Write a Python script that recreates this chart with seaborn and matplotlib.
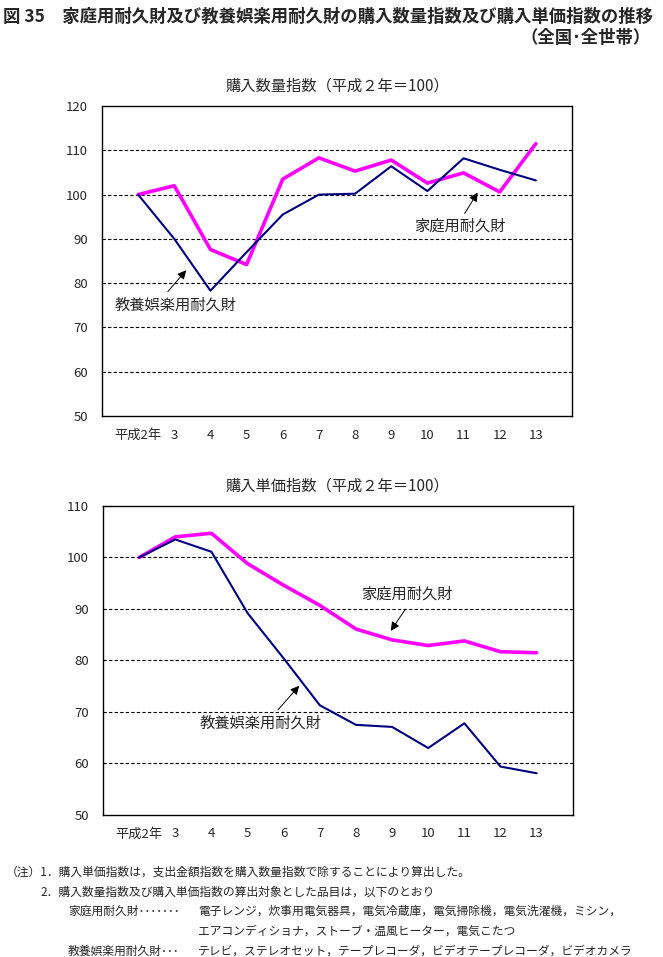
import pandas as pd
import matplotlib
matplotlib.use("Agg")
import matplotlib.pyplot as plt
import seaborn as sns

years = ["平成2年", "3", "4", "5", "6", "7", "8", "9", "10", "11", "12", "13"]

# 購入数量指数
qty_katei = [100, 102.0, 87.6, 84.2, 103.5, 108.3, 105.3, 107.8, 102.6, 104.9, 100.6, 111.5]
qty_kyoyo = [100, 90.0, 78.3, 87.0, 95.5, 100.0, 100.2, 106.4, 100.8, 108.2, 105.6, 103.2]

# 購入単価指数
price_katei = [100, 104.0, 104.7, 98.8, 94.6, 90.7, 86.1, 84.0, 82.9, 83.8, 81.7, 81.5]
price_kyoyo = [100, 103.5, 101.1, 89.2, 80.4, 71.3, 67.5, 67.1, 63.0, 67.8, 59.4, 58.1]

sns.set_style("white")
plt.rcParams['font.family'] = ['Noto Sans CJK JP', 'DejaVu Sans']

MAGENTA = "#FF00FF"
NAVY = "#000080"

fig = plt.figure(figsize=(6.63, 9.57), dpi=100)
ax1 = fig.add_axes([0.1538, 0.5653, 0.709, 0.3239])
ax2 = fig.add_axes([0.1554, 0.1484, 0.7085, 0.3229])


def draw(ax, katei, kyoyo, ylo, yhi, title):
    df = pd.DataFrame({"x": range(len(years)), "katei": katei, "kyoyo": kyoyo})
    sns.lineplot(data=df, x="x", y="katei", ax=ax, color=MAGENTA, linewidth=2.6)
    sns.lineplot(data=df, x="x", y="kyoyo", ax=ax, color=NAVY, linewidth=1.5)
    ax.set_xlim(-1, len(years))
    ax.set_ylim(ylo, yhi)
    ax.set_xticks(range(len(years)))
    ax.set_xticklabels(years)
    ax.set_yticks(range(ylo, yhi + 1, 10))
    for v in range(ylo + 10, yhi, 10):
        ax.axhline(v, color="black", linestyle=(0, (3, 2)), linewidth=0.8, zorder=0)
    ax.set_xlabel("")
    ax.set_ylabel("")
    for s in ax.spines.values():
        s.set_color("black")
        s.set_linewidth(1.0)
    ax.tick_params(axis="x", direction="in", length=4, width=1, pad=9, labelsize=9.5)
    ax.tick_params(axis="y", length=0, pad=10, labelsize=9.5)
    ax.set_title(title, fontsize=11, pad=11)


def label(ax, text, txy, tail, tip):
    ax.text(txy[0], txy[1], text, ha="center", va="center", fontsize=11)
    ax.annotate("", xy=tip, xytext=tail,
                arrowprops=dict(arrowstyle="-|>", color="black", lw=0.7, mutation_scale=13))


draw(ax1, qty_katei, qty_kyoyo, 50, 120, "購入数量指数（平成２年＝100）")
label(ax1, "家庭用耐久財", (8.90, 92.9), (8.99, 95.2), (9.43, 101.0))
label(ax1, "教養娯楽用耐久財", (1.05, 75.1), (0.77, 77.6), (1.38, 83.4))

draw(ax2, price_katei, price_kyoyo, 50, 110, "購入単価指数（平成２年＝100）")
label(ax2, "家庭用耐久財", (7.41, 92.9), (7.41, 90.4), (6.92, 85.3))
label(ax2, "教養娯楽用耐久財", (3.35, 67.8), (3.79, 70.0), (4.48, 75.5))

fig.text(3 / 663, 1 - 17 / 957, "図 35　家庭用耐久財及び教養娯楽用耐久財の購入数量指数及び購入単価指数の推移",
         fontsize=12.5, fontweight="bold", ha="left", va="center")
fig.text(651 / 663, 1 - 38 / 957, "（全国･全世帯）", fontsize=12.5, fontweight="bold",
         ha="right", va="center")

notes = [
    (6, 872, "（注）1．購入単価指数は，支出金額指数を購入数量指数で除することにより算出した。"),
    (40, 892, "2．購入数量指数及び購入単価指数の算出対象とした品目は，以下のとおり"),
    (68, 911, "家庭用耐久財･･･････"),
    (198, 911, "電子レンジ，炊事用電気器具，電気冷蔵庫，電気掃除機，電気洗濯機，ミシン，"),
    (198, 931, "エアコンディショナ，ストーブ・温風ヒーター，電気こたつ"),
    (68, 951, "教養娯楽用耐久財･･･"),
    (198, 951, "テレビ，ステレオセット，テープレコーダ，ビデオテープレコーダ，ビデオカメラ"),
]
for px, py, t in notes:
    fig.text(px / 663, 1 - py / 957, t, fontsize=8.5, ha="left", va="center")

fig.savefig("out.png", dpi=100)
